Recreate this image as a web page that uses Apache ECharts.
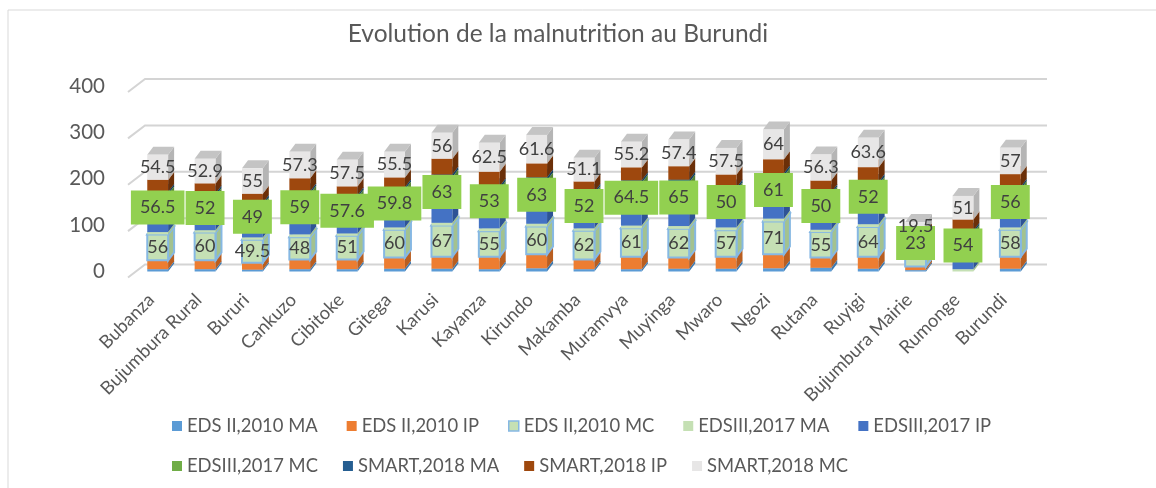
<!DOCTYPE html>
<html>
<head>
<meta charset="utf-8">
<script src="https://cdn.jsdelivr.net/npm/echarts@6/dist/echarts.min.js"></script>
<style>
  html, body { margin: 0; padding: 0; background: #fff; }
  #chart { width: 1156px; height: 488px; }
</style>
</head>
<body>
<div id="chart"></div>
<script>
const regions = ['Bubanza', 'Bujumbura Rural', 'Bururi', 'Cankuzo', 'Cibitoke', 'Gitega', 'Karusi',
  'Kayanza', 'Kirundo', 'Makamba', 'Muramvya', 'Muyinga', 'Mwaro', 'Ngozi', 'Rutana', 'Ruyigi',
  'Bujumbura Mairie', 'Rumonge', 'Burundi']

// EDS II 2010
const edsMA = [5, 5, 4, 5, 5, 6, 6, 5, 7, 5, 5, 6, 6, 7, 8, 6, 3, null, 6]
const edsIP = [19, 19, 15, 21, 21, 24, 26, 27, 30, 21, 27, 24, 26, 30, 22, 26, 8, null, 26]
const edsMC = [56, 60, 49.5, 48, 51, 60, 67, 55, 60, 62, 61, 62, 57, 71, 55, 64, 24, null, 58]
// EDS III 2017
const ed3MA = [5, 5, 5, 6, 5, 5, 6, 6, 6, 5, 6, 6, 6, 6, 5, 6, 4, 5, 5]
const ed3IP = [25, 22, 20, 29, 20, 22, 35, 32, 31, 22, 28, 29, 30, 31, 26, 33, 11, 24, 27]
const ed3MC = [56.5, 52, 49, 59, 57.6, 59.8, 63, 53, 63, 52, 64.5, 65, 50, 61, 50, 52, 23, 54, 56]
// SMART 2018
const smMA = [5, 5, 5, 5, 5, 5, 6, 6, 6, 5, 5, 6, 6, 6, 5, 6, 4, 5, 5]
const smIP = [26, 22, 20, 28, 19, 21, 34, 31, 30, 22, 28, 29, 28, 30, 25, 32, 10, 24, 27]
const smMC = [54.5, 52.9, 55, 57.3, 57.5, 55.5, 56, 62.5, 61.6, 51.1, 55.2, 57.4, 57.5, 64, 56.3, 63.6, 19.5, 51, 57]

const yTicks = [0, 100, 200, 300, 400]

// the EDS II MC label of this one sits hidden under the green box in the original
const hiddenEdsLabels = ['Bujumbura Mairie']

const FONT = 'Lato, "Noto Sans", sans-serif'
const DX = 6
const DY = 8

const defs = [
  { name: 'EDS II,2010 MA', data: edsMA, color: '#5B9BD5', side: '#3D78AE', top: '#8DB9E4' },
  { name: 'EDS II,2010 IP', data: edsIP, color: '#ED7D31', side: '#B95E20', top: '#F2A06A' },
  { name: 'EDS II,2010 MC', data: edsMC, color: '#C5E0B4', side: '#A3C28F', top: '#D8EBCB', border: '#86B8E3' },
  { name: 'EDSIII,2017 MA', data: ed3MA, color: '#C5E0B4', side: '#A3C28F', top: '#D8EBCB' },
  { name: 'EDSIII,2017 IP', data: ed3IP, color: '#4472C4', side: '#2E5395', top: '#7396D6' },
  { name: 'EDSIII,2017 MC', data: ed3MC, color: '#70AD47', side: '#548235', top: '#93C572' },
  { name: 'SMART,2018 MA', data: smMA, color: '#255E91', side: '#173F63', top: '#4A7DAE' },
  { name: 'SMART,2018 IP', data: smIP, color: '#9E480E', side: '#6B2F08', top: '#B8693A' },
  { name: 'SMART,2018 MC', data: smMC, color: '#E7E6E6', side: '#B5B5B5', top: '#C4C4C4' }
]

// cumulative stacks
const base = regions.map(() => 0)
const stacked = defs.map((d) => {
  return d.data.map((v, i) => {
    const s = base[i]
    if (v == null) return [i, s, s, null]
    base[i] = s + v
    return [i, s, s + v, v]
  })
})

const barRender = (def) => (params, api) => {
  if (api.value(3) == null || isNaN(api.value(3))) return null
  const i = api.value(0)
  const p0 = api.coord([i, api.value(1)])
  const p1 = api.coord([i, api.value(2)])
  const w = api.size([1, 0])[0] * 0.44
  const x0 = p0[0] - w / 2
  const x1 = x0 + w
  const yb = p0[1]
  const yt = p1[1]
  const stroke = def.border
  const lw = stroke ? 2 : 0
  return {
    type: 'group',
    children: [
      {
        type: 'polygon',
        shape: { points: [[x1, yb], [x1 + DX, yb - DY], [x1 + DX, yt - DY], [x1, yt]] },
        style: { fill: def.side, stroke: stroke || null, lineWidth: lw }
      },
      {
        type: 'polygon',
        shape: { points: [[x0, yt], [x1, yt], [x1 + DX, yt - DY], [x0 + DX, yt - DY]] },
        style: { fill: def.top, stroke: stroke || null, lineWidth: lw }
      },
      {
        type: 'rect',
        shape: { x: x0, y: yt, width: w, height: yb - yt },
        style: { fill: def.color, stroke: stroke || null, lineWidth: lw }
      }
    ]
  }
}

const labelRender = (k) => (params, api) => {
  const v = api.value(3)
  if (v == null || isNaN(v)) return null
  const i = api.value(0)
  if (k === 2 && hiddenEdsLabels.indexOf(regions[i]) >= 0) return null
  const p = api.coord([i, (api.value(1) + api.value(2)) / 2])
  const style = {
    text: String(v),
    x: p[0],
    y: p[1],
    fill: '#404040',
    font: '18px ' + FONT,
    align: 'center',
    verticalAlign: 'middle',
    textAlign: 'center',
    textVerticalAlign: 'middle'
  }
  if (k === 5) {
    style.backgroundColor = '#92D050'
    style.padding = [8, 9, 8, 9]
  }
  return { type: 'text', style: style }
}

const wallSeries = {
  type: 'custom',
  name: 'wall',
  silent: true,
  z: 1,
  data: yTicks.map((v) => [0, v]),
  encode: { x: 0, y: 1 },
  renderItem: (params, api) => {
    const y = api.coord([0, api.value(1)])[1]
    const gx = params.coordSys.x
    return {
      type: 'polyline',
      shape: { points: [[gx - 6, y + 6], [gx + 11, y - 7], [gx + 913, y - 7]] },
      style: { stroke: '#D4D4D4', lineWidth: 2, fill: null }
    }
  }
}

const barSeries = defs.map((d, k) => ({
  type: 'custom',
  name: d.name,
  z: 2,
  itemStyle: { color: d.color },
  data: stacked[k],
  encode: { x: 0, y: [1, 2] },
  renderItem: barRender(d)
}))

const labelSeries = [2, 5, 8].map((k) => ({
  type: 'custom',
  name: 'lbl' + k,
  silent: true,
  z: k === 8 ? 5 : k === 5 ? 4 : 3,
  data: stacked[k],
  encode: { x: 0, y: [1, 2] },
  renderItem: labelRender(k)
}))

const legendItem = (d) => {
  const item = { name: d.name }
  if (d.border) item.itemStyle = { color: d.color, borderColor: d.border, borderWidth: 1.5 }
  return item
}

const chart = echarts.init(document.getElementById('chart'))
chart.setOption({
  animation: false,
  title: {
    text: 'Evolution de la malnutrition au Burundi',
    left: 553,
    top: 17,
    textAlign: 'center',
    textStyle: { fontFamily: FONT, fontSize: 24.5, fontWeight: 'normal', color: '#595959' }
  },
  graphic: [{
    type: 'rect',
    shape: { x: 8, y: 10, width: 1200, height: 500 },
    style: { fill: null, stroke: '#D9D9D9', lineWidth: 1 },
    silent: true
  }],
  legend: [
    {
      data: defs.slice(0, 5).map(legendItem),
      left: 167, top: 412,
      itemWidth: 10, itemHeight: 10, itemGap: 29,
      icon: 'rect',
      textStyle: { fontFamily: FONT, fontSize: 18.4, color: '#595959' }
    },
    {
      data: defs.slice(5).map(legendItem),
      left: 167, top: 452,
      itemWidth: 10, itemHeight: 10, itemGap: 25,
      icon: 'rect',
      textStyle: { fontFamily: FONT, fontSize: 18.4, color: '#595959' }
    }
  ],
  grid: { left: 134, right: 122, top: 86, bottom: 216.5 },
  xAxis: {
    type: 'category',
    data: regions,
    axisLine: { show: false },
    axisTick: { show: false },
    axisLabel: {
      interval: 0,
      rotate: 45,
      margin: 19,
      padding: [0, 9, 0, 0],
      fontFamily: FONT,
      fontSize: 18.4,
      color: '#595959'
    }
  },
  yAxis: {
    type: 'value',
    min: 0,
    max: 400,
    interval: 100,
    splitLine: { show: false },
    axisLine: { show: false },
    axisTick: { show: false },
    axisLabel: {
      margin: 29,
      padding: [11, 0, 0, 0],
      fontFamily: FONT,
      fontSize: 20.5,
      color: '#595959'
    }
  },
  series: [wallSeries].concat(barSeries, labelSeries)
})
</script>
</body>
</html>
